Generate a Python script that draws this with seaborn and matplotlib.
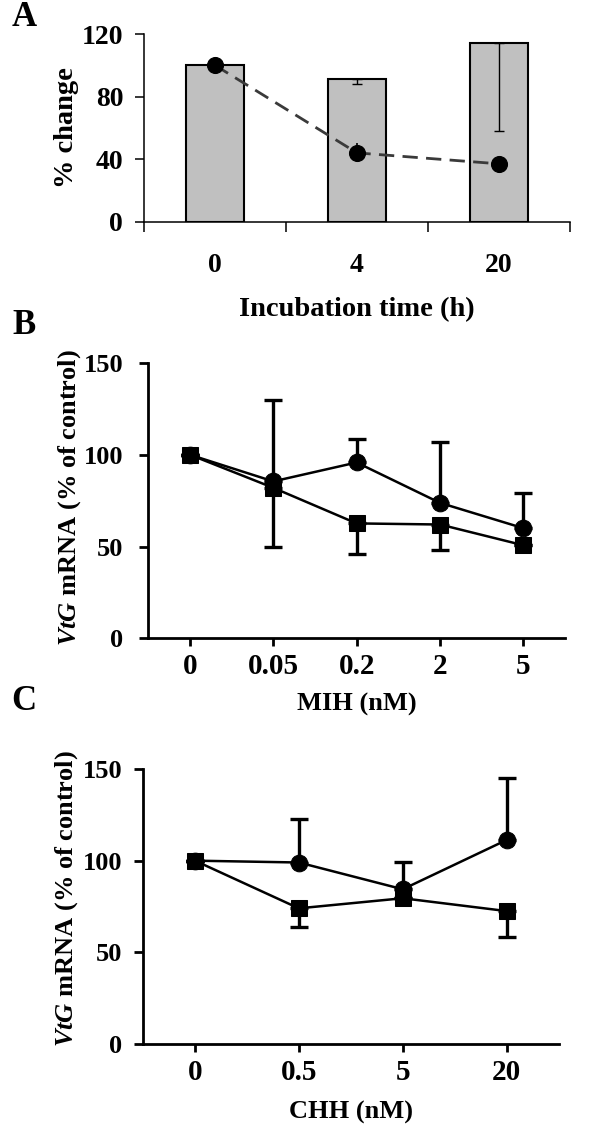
import numpy as np
import matplotlib
matplotlib.use("Agg")
import matplotlib.pyplot as plt
from matplotlib.ticker import FixedLocator
import seaborn as sns

# ---------------- data ----------------
# Panel A
time_labels = ["0", "4", "20"]
bar_values = [100, 91, 114]
bar_err_low = [0, 3, 56]
dot_values = [100, 44, 37]
dot_err = [0, 6, 0]
a_yticks = [0, 40, 80, 120]

# Panel B (MIH)
mih_labels = ["0", "0.05", "0.2", "2", "5"]
mih_circle = [100, 85.5, 95.8, 73.8, 60]
mih_circle_err_up = [0, 44.5, 12.6, 33.3, 19]
mih_square = [100, 82, 62.6, 62, 50.7]
mih_square_err_low = [0, 32, 16.4, 14, 0]

# Panel C (CHH)
chh_labels = ["0", "0.5", "5", "20"]
chh_circle = [100, 99, 84.4, 111.3]
chh_circle_err_up = [0, 24, 14.7, 34]
chh_square = [100, 74, 79.5, 72.5]
chh_square_err_low = [0, 10, 0, 14]

bc_yticks = [0, 50, 100, 150]

# ---------------- style ----------------
sns.set_style("ticks")
plt.rcParams["font.family"] = ["Liberation Serif", "DejaVu Serif"]
plt.rcParams["font.weight"] = "bold"
plt.rcParams["mathtext.fontset"] = "custom"
plt.rcParams["mathtext.bfit"] = "Liberation Serif:italic:bold"
plt.rcParams["mathtext.rm"] = "Liberation Serif:bold"
for key in ["text.color", "axes.labelcolor", "xtick.color", "ytick.color",
            "xtick.labelcolor", "ytick.labelcolor", "axes.edgecolor"]:
    plt.rcParams[key] = "black"

W, H = 600, 1134
fig = plt.figure(figsize=(W / 100, H / 100), dpi=100)
fig.patch.set_facecolor("white")


def px_axes(x0, x1, ytop, ybot):
    return fig.add_axes([x0 / W, (H - ybot) / H, (x1 - x0) / W, (ybot - ytop) / H])


# ================= Panel A =================
axA = px_axes(144, 570, 34, 221.7)
posA = np.arange(len(time_labels))
sns.barplot(x=time_labels, y=bar_values, color="#c0c0c0", saturation=1,
            edgecolor="black", linewidth=1.5, width=0.41, ax=axA, zorder=2)
axA.errorbar(posA, bar_values, yerr=[bar_err_low, [0] * len(bar_values)],
             fmt="none", ecolor="black", elinewidth=1.0, capsize=3.5,
             capthick=1.0, zorder=3)
sns.lineplot(x=posA, y=dot_values, color="#3a3a3a", linewidth=2.0,
             linestyle=(0, (5.5, 3)), ax=axA, zorder=4)
axA.errorbar(posA, dot_values, yerr=dot_err, fmt="none", ecolor="black",
             elinewidth=1.2, capsize=0, zorder=5)
sns.scatterplot(x=posA, y=dot_values, color="black", edgecolor="black",
                s=130, ax=axA, zorder=6, legend=False)

axA.set_xlim(-0.5, 2.5)
axA.set_ylim(0, 120)
axA.set_yticks(a_yticks)
axA.set_yticklabels([str(v) for v in a_yticks])
axA.set_xticks(posA)
axA.set_xticklabels(time_labels)
axA.xaxis.set_minor_locator(FixedLocator([-0.5, 0.5, 1.5, 2.5]))
for s in ["top", "right"]:
    axA.spines[s].set_visible(False)
for s in ["left", "bottom"]:
    axA.spines[s].set_linewidth(1.1)
    axA.spines[s].set_color("black")
axA.tick_params(axis="x", which="major", length=0, pad=22.5, labelsize=20)
axA.tick_params(axis="x", which="minor", length=7.2, width=1.1,
                direction="out", color="black")
axA.tick_params(axis="y", length=6.5, width=1.1, pad=8.5, labelsize=20,
                color="black", direction="out")
axA.set_xlabel("Incubation time (h)", fontsize=20.5, fontweight="bold")
axA.xaxis.set_label_coords(0.5, -0.47)
axA.xaxis.label.set_verticalalignment("center")
axA.set_ylabel("% change", fontsize=20.5, fontweight="bold")
axA.yaxis.set_label_coords(-0.181, 0.5)
axA.yaxis.label.set_verticalalignment("center")
axA.set_facecolor("white")


# ================= Panels B & C =================
def line_panel(ax, labels, circ, circ_up, sq, sq_low, xlabel, ytick_pad):
    pos = np.arange(len(labels))
    # error bars
    ax.errorbar(pos, circ, yerr=[[0] * len(circ), circ_up], fmt="none",
                ecolor="black", elinewidth=2.4, capsize=6.5, capthick=2.4,
                zorder=2)
    ax.errorbar(pos, sq, yerr=[sq_low, [0] * len(sq)], fmt="none",
                ecolor="black", elinewidth=2.4, capsize=6.5, capthick=2.4,
                zorder=2)
    sns.lineplot(x=pos, y=circ, color="black", linewidth=1.8, marker="o",
                 markersize=12, markeredgecolor="black", ax=ax, zorder=3)
    sns.lineplot(x=pos, y=sq, color="black", linewidth=1.8, marker="s",
                 markersize=12, markeredgecolor="black", ax=ax, zorder=4)
    ax.set_xlim(-0.5, len(labels) - 0.5)
    ax.set_ylim(0, 150)
    ax.set_xticks(pos)
    ax.set_xticklabels(labels)
    ax.set_yticks(bc_yticks)
    ax.set_yticklabels([str(v) for v in bc_yticks])
    for s in ["top", "right"]:
        ax.spines[s].set_visible(False)
    for s in ["left", "bottom"]:
        ax.spines[s].set_linewidth(2.0)
        ax.spines[s].set_color("black")
    ax.tick_params(axis="x", length=6, width=2.0, pad=4.5, labelsize=21,
                   direction="out", color="black")
    ax.tick_params(axis="y", length=6.5, width=2.0, pad=ytick_pad,
                   labelsize=19, direction="out", color="black")
    ax.set_xlabel(xlabel, fontsize=19, fontweight="bold")
    ax.set_ylabel(r"$\mathbfit{VtG}$ mRNA (% of control)", fontsize=19,
                  fontweight="bold")
    ax.set_facecolor("white")


axB = px_axes(148.3, 565, 363, 638.3)
line_panel(axB, mih_labels, mih_circle, mih_circle_err_up, mih_square,
           mih_square_err_low, "MIH (nM)", 11.5)
axB.xaxis.set_label_coords(0.5, -0.24)
axB.xaxis.label.set_verticalalignment("center")
axB.yaxis.set_label_coords(-0.19, 0.51)
axB.yaxis.label.set_verticalalignment("center")

axC = px_axes(143, 558.6, 769, 1044)
line_panel(axC, chh_labels, chh_circle, chh_circle_err_up, chh_square,
           chh_square_err_low, "CHH (nM)", 8.5)
axC.xaxis.set_label_coords(0.5, -0.25)
axC.xaxis.label.set_verticalalignment("center")
axC.yaxis.set_label_coords(-0.185, 0.527)
axC.yaxis.label.set_verticalalignment("center")

# panel letters
for letter, ycen in [("A", 18), ("B", 325), ("C", 702)]:
    fig.text(24 / W, 1 - ycen / H, letter, fontsize=25, fontweight="bold",
             ha="center", va="center")

fig.savefig("out.png", dpi=100, facecolor="white")
